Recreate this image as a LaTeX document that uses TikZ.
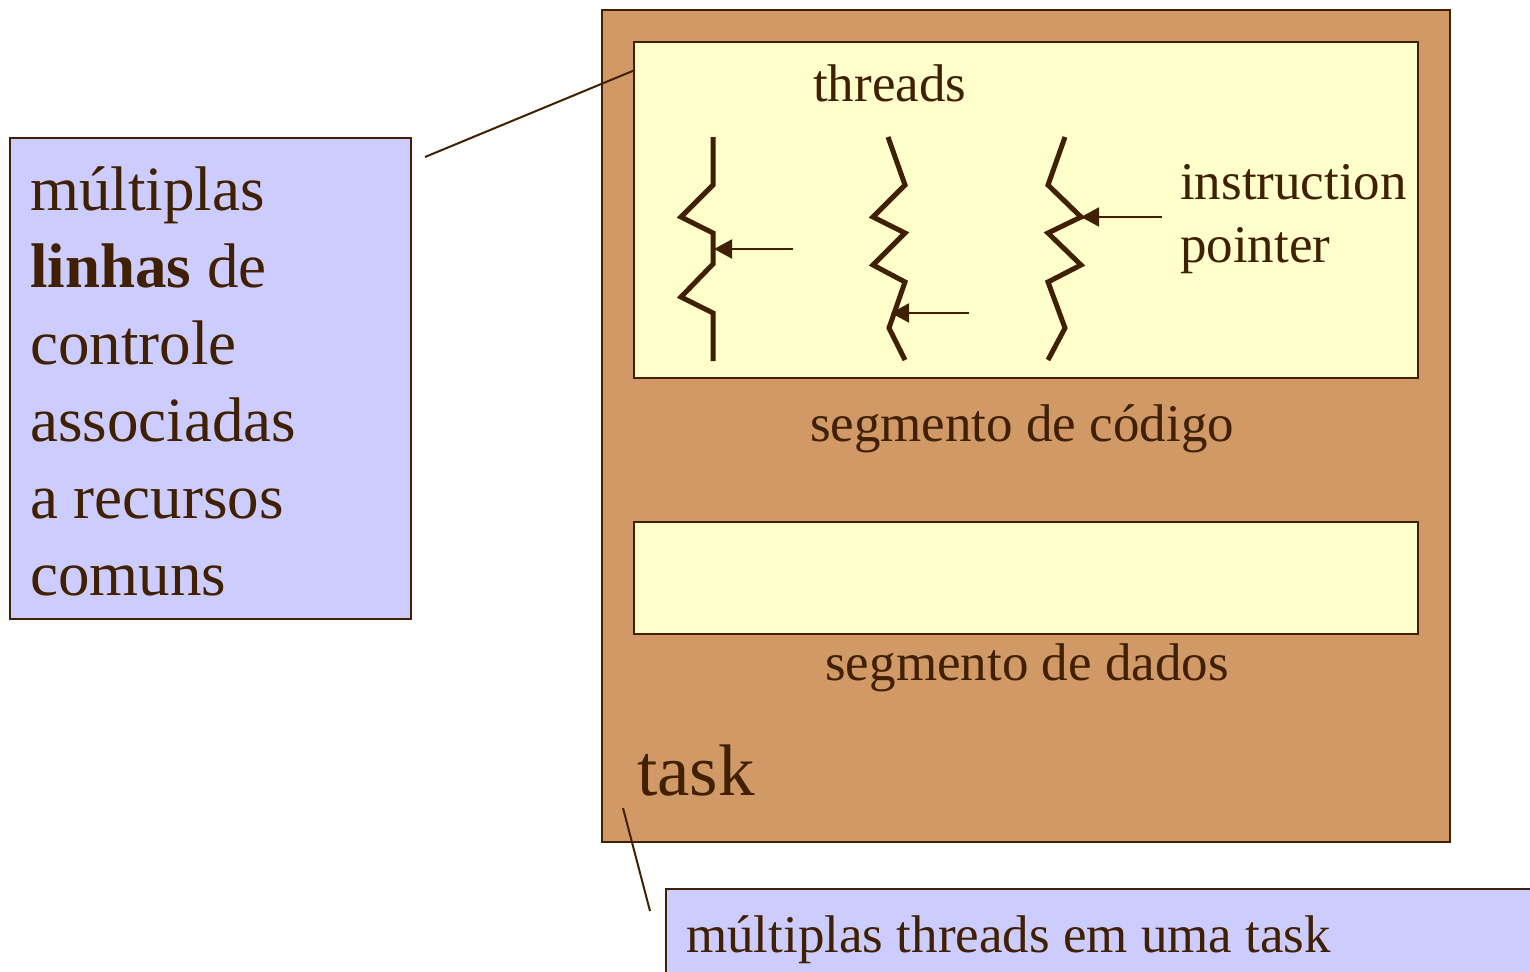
\documentclass[tikz,border=0pt]{standalone}
\usepackage{fontspec}
\setmainfont{Liberation Serif}
\usetikzlibrary{arrows.meta}
\definecolor{ink}{RGB}{64,32,0}
\definecolor{tanfill}{RGB}{208,153,102}
\definecolor{paleyellow}{RGB}{255,255,204}
\definecolor{lavender}{RGB}{204,204,255}
\begin{document}
\begin{tikzpicture}[x=1pt,y=-1pt,
  box/.style={draw=ink, line width=2pt, inner sep=0pt, anchor=north west},
  lbl/.style={text=ink, inner sep=0pt, anchor=base west, font=\fontsize{53}{60}\selectfont},
  thread/.style={draw=ink, line width=5pt},
  ptr/.style={draw=ink, line width=2pt, -{Triangle[length=18pt,width=19pt]}},
  callout/.style={draw=ink, line width=2pt}]
\useasboundingbox (0,0) rectangle (1530,971);
\clip (0,0) rectangle (1530,971);
% boxes
\node[box, fill=lavender, minimum width=401pt, minimum height=481pt] (note1) at (9,137) {};
\node[box, fill=tanfill, minimum width=848pt, minimum height=832pt] (task) at (601,9) {};
\node[box, fill=paleyellow, minimum width=784pt, minimum height=336pt] (code) at (633,41) {};
\node[box, fill=paleyellow, minimum width=784pt, minimum height=112pt] (data) at (633,521) {};
\node[box, fill=lavender, minimum width=900pt, minimum height=120pt] (note2) at (665,888) {};
% labels
\node[lbl] (threadslbl) at (813,102) {threads};
\node[lbl, anchor=base] (codelbl) at (1022,441) {segmento de código};
\node[lbl, anchor=base] (datalbl) at (1027,680) {segmento de dados};
\node[lbl] (ip1) at (1180,199) {instruction};
\node[lbl] (ip2) at (1180,262) {pointer};
\node[lbl, font=\fontsize{73}{80}\selectfont] (tasklbl) at (637,795) {task};
\node[lbl] (note2text) at (686,952) {múltiplas threads em uma task};
\node[lbl, font=\fontsize{63}{77}\selectfont, anchor=north west, align=left] (note1text) at (30,166)
  {múltiplas\\\textbf{linhas} de\\controle\\associadas\\a recursos\\comuns};
% threads
\draw[thread] (713,137) -- (713,185) -- (681,217) -- (713,233) -- (713,264) -- (681,297) -- (713,313) -- (713,361);
\draw[thread] (888,137) -- (905,185) -- (873,217) -- (905,233) -- (873,265) -- (905,282) -- (889,328) -- (905,360);
\draw[thread] (1065,137) -- (1048,185) -- (1081,217) -- (1048,233) -- (1081,265) -- (1048,282) -- (1065,328) -- (1048,360);
% instruction pointers
\coordinate (a1s) at (793,249); \coordinate (a1e) at (714,249);
\coordinate (a2s) at (969,313); \coordinate (a2e) at (891,313);
\coordinate (a3s) at (1162,217); \coordinate (a3e) at (1081,217);
\draw[ptr] (a1s) -- (a1e);
\draw[ptr] (a2s) -- (a2e);
\draw[ptr] (a3s) -- (a3e);
% callout lines
\coordinate (c1a) at (425,157); \coordinate (c1b) at (635,70);
\coordinate (c2a) at (623,808); \coordinate (c2b) at (650,911);
\draw[callout] (c1a) -- (c1b);
\draw[callout] (c2a) -- (c2b);
\end{tikzpicture}
\end{document}
